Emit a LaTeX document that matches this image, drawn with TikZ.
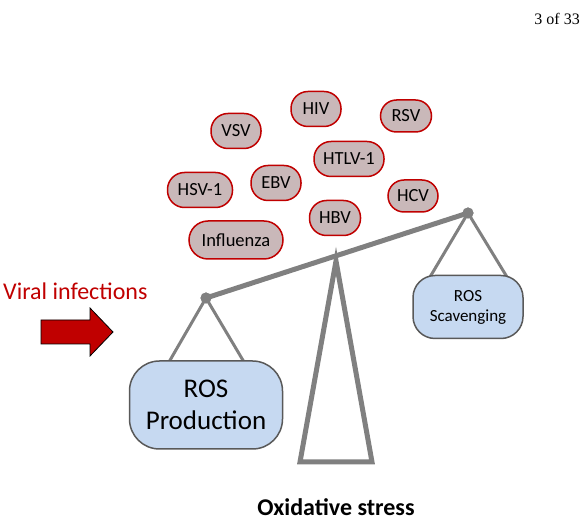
\documentclass[tikz,border=0pt]{standalone}
\usepackage{fontspec}
\setmainfont{Carlito}
\newfontfamily\serifpage{Liberation Serif}
\definecolor{virfill}{HTML}{C9B8B9}
\definecolor{virdraw}{HTML}{C00000}
\definecolor{rosfill}{HTML}{C6D9F1}
\definecolor{rosdraw}{HTML}{595959}
\definecolor{beamgray}{HTML}{808080}
\begin{document}
\begin{tikzpicture}[x=1pt,y=-1pt,
  virus/.style={draw=virdraw, fill=virfill, line width=1.5pt, rounded corners=17pt,
    minimum height=35pt, inner sep=0pt, font=\fontsize{18.5}{20}\selectfont},
  rosbox/.style={draw=rosdraw, fill=rosfill, line width=1.5pt, align=center, inner sep=0pt},
  beam/.style={draw=beamgray, line width=5pt},
  string/.style={draw=beamgray, line width=3pt},
  pivot/.style={circle, fill=beamgray, inner sep=0pt, minimum size=11pt}]
\useasboundingbox (0,0) rectangle (584,526);

% page number
\node[font=\serifpage\fontsize{16}{18}\selectfont, anchor=east, inner sep=0pt] (pg) at (580,19) {3 of 33};

% viruses
\node[virus, minimum width=50pt] (hiv) at (316,109) {HIV};
\node[virus, minimum width=50pt] (vsv) at (236,131) {VSV};
\node[virus, minimum width=51pt, minimum height=32pt, rounded corners=16pt] (rsv) at (406,116) {RSV};
\node[virus, minimum width=70pt] (htlv) at (349,159) {HTLV-1};
\node[virus, minimum width=65pt] (hsv) at (200,190) {HSV-1};
\node[virus, minimum width=50pt] (ebv) at (276,183) {EBV};
\node[virus, minimum width=50pt, minimum height=32pt, rounded corners=16pt] (hcv) at (413,196) {HCV};
\node[virus, minimum width=51pt] (hbv) at (335,218) {HBV};
\node[virus, minimum width=94pt, minimum height=38pt, rounded corners=19pt] (flu) at (236,240) {Influenza};

% fulcrum
\coordinate (apex) at (336,261);
\draw[draw=beamgray, line width=5pt, line join=miter]
  (apex) -- (372,462) -- (300,462) -- cycle;

% pivots and beam
\node[pivot] (pl) at (206,298) {};
\node[pivot] (pr) at (468,213) {};
\draw[beam] (pl.center) -- (pr.center);

% strings
\coordinate (pla) at (169,362);
\coordinate (plb) at (244,362);
\coordinate (pra) at (430,277);
\coordinate (prb) at (507,277);
\draw[string] (pla) -- (pl.center) -- (plb);
\draw[string] (pra) -- (pr.center) -- (prb);
\fill[beamgray] (pl) circle (5.5pt) (pr) circle (5.5pt);

% pans
\node[rosbox, minimum width=153pt, minimum height=88pt, rounded corners=30pt,
      font=\fontsize{27}{32}\selectfont] (prod) at (206,405) {ROS\\Production};
\node[rosbox, minimum width=110pt, minimum height=63pt, rounded corners=22pt,
      font=\fontsize{17}{20}\selectfont] (scav) at (468,307) {ROS\\Scavenging};

% viral infections
\node[anchor=west, text=virdraw, font=\fontsize{24}{26}\selectfont, inner sep=0pt] (vi) at (3,291) {Viral infections};
\draw[fill=virdraw, draw=black, line width=0.8pt]
  (41,320) -- (90,320) -- (90,308) -- (113,332) -- (90,356) -- (90,344) -- (41,344) -- cycle;

% caption
\node[font=\bfseries\fontsize{24}{26}\selectfont] (cap) at (336,507) {Oxidative stress};
\end{tikzpicture}
\end{document}
